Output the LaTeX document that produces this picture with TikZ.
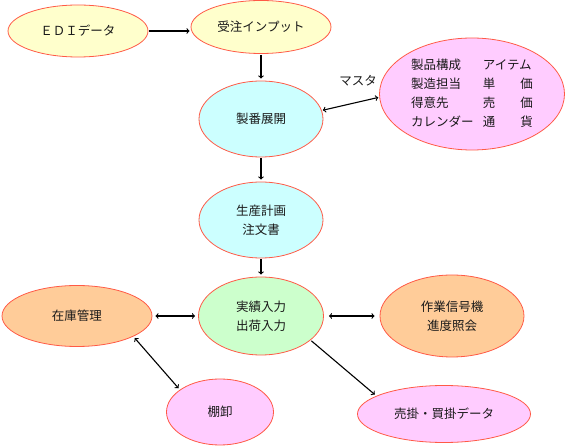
\documentclass[tikz,border=0pt]{standalone}
\usepackage{fontspec}
\setmainfont{Noto Sans CJK JP}
\usetikzlibrary{positioning,arrows,shapes}
\definecolor{rim}   {RGB}{255, 90, 70}
\definecolor{cream} {RGB}{255,255,204}
\definecolor{aqua}  {RGB}{204,255,255}
\definecolor{rose}  {RGB}{255,204,255}
\definecolor{mint}  {RGB}{204,255,204}
\definecolor{peach} {RGB}{255,204,153}
\newcommand\spread[2]{\makebox[4em]{#1\hfill#2}}

\begin{document}
\begin{tikzpicture}[
  x=1pt, y=-1pt,
  font={\fontsize{12.5}{19}\selectfont},
  text=black!90,
  proc/.style={ellipse,draw=rim,line width=0.8pt,inner sep=0pt,align=center},
  link/.style={line width=1.1pt,shorten <=1pt,shorten >=1pt},
]

  \useasboundingbox (0,0) rectangle (566,446);

  % Top row
  \node[proc,fill=cream,minimum width=140pt,minimum height=52pt] (edi) at (78,31) {ＥＤＩデータ};
  \node[proc,fill=cream,minimum width=140pt,minimum height=53pt] (order) at (261,27) {受注インプット};

  % Main column
  \node[proc,fill=aqua,minimum width=124pt,minimum height=76pt] (expand) at (261,119) {製番展開};
  \node[proc,fill=aqua,minimum width=124pt,minimum height=76pt] (plan) at (261,220) {生産計画\\注文書};
  \node[proc,fill=mint,minimum width=125pt,minimum height=78pt] (actual) at (261,316) {実績入力\\出荷入力};

  % Master data
  \node[proc,fill=rose,minimum width=185pt,minimum height=112pt] (master) at (472,94)
    {\begin{tabular}{@{}l@{\hspace{0.75em}}l@{}}
       製品構成 & アイテム\\
       製造担当 & \spread{単}{価}\\
       得意先 & \spread{売}{価}\\
       カレンダー & \spread{通}{貨}
     \end{tabular}};
  \node (masterlabel) at (358,81) {マスタ};

  % Side nodes
  \node[proc,fill=peach,minimum width=150pt,minimum height=61pt] (stock) at (77,316) {在庫管理};
  \node[proc,fill=peach,minimum width=144pt,minimum height=82pt] (signal) at (452,316) {作業信号機\\進度照会};
  \node[proc,fill=rose,minimum width=107pt,minimum height=66pt] (count) at (220,412) {棚卸};
  \node[proc,fill=rose,minimum width=173pt,minimum height=57pt] (ledger) at (444,414) {売掛・買掛データ};

  % Flow
  \draw[->,link] (edi.east) -- (edi.east -| order.west);
  \draw[->,link,shorten >=2pt] (order.south) -- (expand.north);
  \draw[->,link,shorten >=2pt] (expand.south) -- (plan.north);
  \draw[->,link,shorten >=2pt] (plan.south) -- (actual.north);
  \draw[<->,link] (expand.8) -- (master.182);

  % Bottom links
  \draw[<->,link,shorten <=3pt,shorten >=3pt] (stock.east) -- (actual.west);
  \draw[<->,link,shorten <=5pt,shorten >=5pt] (actual.east) -- (signal.west);
  \draw[<->,link,shorten <=2pt,shorten >=2pt] (stock.-20) -- (count.151);
  \draw[->,link,shorten >=2pt] (actual.-26) -- (ledger.165);

\end{tikzpicture}
\end{document}
